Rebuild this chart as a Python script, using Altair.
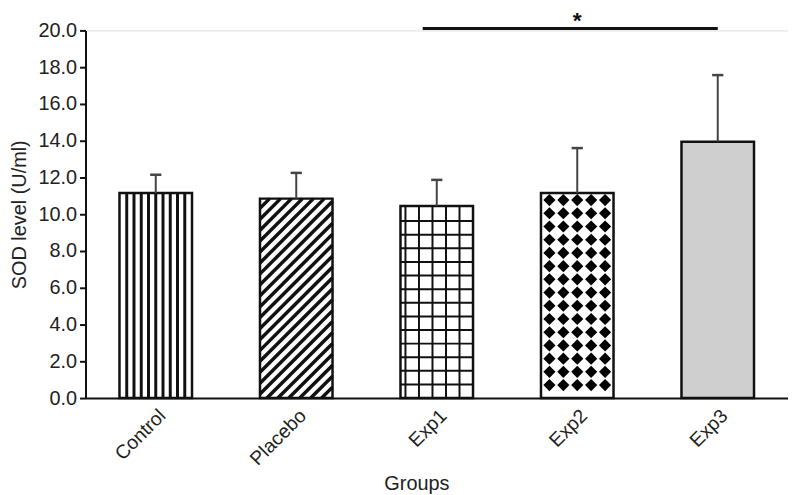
import json
import altair as alt
import pandas as pd

# ---- data ----
groups = ["Control", "Placebo", "Exp1", "Exp2", "Exp3"]
means = [11.15, 10.85, 10.45, 11.15, 13.95]
sds = [1.0, 1.4, 1.42, 2.45, 3.62]
y_ticks = [0, 2, 4, 6, 8, 10, 12, 14, 16, 18, 20]
sig_from = [1.9]
sig_to = [4.0]
sig_y = [20.1]
sig_label = ["*"]

# ---- layout constants (pixels) ----
W, H = 707, 370
PX_X = W / 5.0          # px per x unit
PX_Y = H / 20.0         # px per y unit
BAR_PX = 73.0
HALF = BAR_PX / 2 / PX_X
FONT = "Liberation Sans"

df = pd.DataFrame({"i": range(len(groups)), "group": groups, "mean": means, "sd": sds})
df["x0"] = df["i"] - HALF
df["x1"] = df["i"] + HALF
df["top"] = df["mean"] + df["sd"]
df["c0"] = df["i"] - 0.04
df["c1"] = df["i"] + 0.04
df["zero"] = 0.0

xs = alt.Scale(domain=[-0.5, 4.5], nice=False, zero=False)
ys = alt.Scale(domain=[0, 20], nice=False)

def X(f="x0"):
    return alt.X(f"{f}:Q", scale=xs, title="Groups",
                 axis=alt.Axis(values=list(range(len(groups))),
                               labelExpr=json.dumps(groups) + "[datum.value]",
                               ticks=False, grid=False, labelAngle=-45,
                               labelAlign="right", labelBaseline="top",
                               labelPadding=8, labelFontSize=19.5,
                               titleFontSize=20, titleFontWeight="normal",
                               titlePadding=5, titleX=333,
                               domainColor="#111", domainWidth=2,
                               labelColor="#222", titleColor="#222",
                               labelFont=FONT, titleFont=FONT))

def Y(f="mean"):
    return alt.Y(f"{f}:Q", scale=ys, title="SOD level (U/ml)",
                 axis=alt.Axis(values=y_ticks, format=".1f", grid=False,
                               tickSize=6, tickWidth=2, tickColor="#111",
                               domainColor="#111", domainWidth=2,
                               labelFontSize=20, labelPadding=3,
                               labelColor="#222", titleColor="#222",
                               titleFontSize=20, titleFontWeight="normal",
                               titlePadding=8, labelFont=FONT, titleFont=FONT))

fill_range = ["white", "white", "white", "white", "#cfcfcf"]

bars_fill = alt.Chart(df).mark_rect(strokeWidth=0).encode(
    x=X("x0"), x2="x1:Q", y=Y("zero"), y2="mean:Q",
    fill=alt.Fill("group:N", scale=alt.Scale(domain=groups, range=fill_range), legend=None),
)

# ---- patterns derived from the bar extents ----
def bar_px(idx):
    return df.loc[idx, "i"] - HALF, means[idx] * PX_Y

rows = []
# Control: vertical stripes
x_left, hpx = bar_px(0)
for k in range(1, 10):
    xx = x_left + k * 7.3 / PX_X
    rows.append({"x": xx, "x2": xx, "y": 0.0, "y2": means[0], "w": 3.0})
# Placebo: diagonal stripes "/"
x_left, hpx = bar_px(1)
c = -BAR_PX
while c < hpx:
    p0 = max(0.0, -c)
    p1 = min(BAR_PX, hpx - c)
    if p1 > p0:
        rows.append({"x": x_left + p0 / PX_X, "x2": x_left + p1 / PX_X,
                     "y": (p0 + c) / PX_Y, "y2": (p1 + c) / PX_Y, "w": 3.5})
    c += 11.0
# Exp1: grid
x_left, hpx = bar_px(2)
for k in range(1, 6):
    px = BAR_PX - 13.6 * k
    xx = x_left + px / PX_X
    rows.append({"x": xx, "x2": xx, "y": 0.0, "y2": means[2], "w": 2.0})
k = 1
while 13.7 * k < hpx - 2:
    yy = 13.7 * k / PX_Y
    rows.append({"x": x_left, "x2": x_left + BAR_PX / PX_X, "y": yy, "y2": yy, "w": 2.0})
    k += 1
pat = pd.DataFrame(rows)

pattern = alt.Chart(pat).mark_rule(color="#111", strokeCap="butt").encode(
    x=X("x"), x2="x2:Q", y=Y("y"), y2="y2:Q",
    strokeWidth=alt.StrokeWidth("w:Q", scale=None),
)

# Exp2: diamonds
dots = []
x_left, hpx = bar_px(3)
k = 0
while 7 + 13.3 * k < hpx - 4:
    py = hpx - 7 - 13.3 * k
    for j in range(5):
        px = 8.5 + 14 * j
        dots.append({"x": x_left + px / PX_X, "y": py / PX_Y})
    k += 1
dia = alt.Chart(pd.DataFrame(dots)).mark_point(
    shape="diamond", filled=True, color="#000", size=150, opacity=1
).encode(x=X("x"), y=Y("y"))

outline = alt.Chart(df).mark_rect(fill=None, stroke="#111", strokeWidth=2.5).encode(
    x=X("x0"), x2="x1:Q", y=Y("zero"), y2="mean:Q",
)

err = alt.Chart(df).mark_rule(color="#444", strokeWidth=2).encode(
    x=X("i"), y=Y("mean"), y2="top:Q",
)
cap = alt.Chart(df).mark_rule(color="#444", strokeWidth=2.5).encode(
    x=X("c0"), x2="c1:Q", y=Y("top"),
)

sig = pd.DataFrame({"a": sig_from, "b": sig_to, "y": sig_y, "t": sig_label})
sig["mid"] = (sig["a"] + sig["b"]) / 2 + 0.05
sig["ty"] = sig["y"] + 1.0
sig_line = alt.Chart(sig).mark_rule(color="#111", strokeWidth=3).encode(
    x=X("a"), x2="b:Q", y=Y("y"),
)
sig_text = alt.Chart(sig).mark_text(fontSize=23, fontWeight="bold", font=FONT,
                                    baseline="top", color="#111").encode(
    x=X("mid"), y=Y("ty"), text="t:N",
)

chart = alt.layer(bars_fill, pattern, dia, outline, err, cap, sig_line, sig_text).properties(
    width=W, height=H,
    autosize=alt.AutoSizeParams(type="none"),
    padding={"left": 78, "top": 21, "right": 0, "bottom": 100},
).configure_view(stroke=None).configure(background="white")

chart.save("out.html", embed_options={"renderer": "svg", "actions": False})
